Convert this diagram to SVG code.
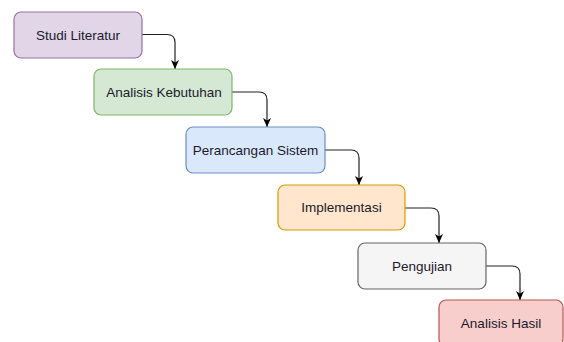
<svg xmlns="http://www.w3.org/2000/svg" width="564" height="342" viewBox="0 0 564 342">
<defs>
<marker id="arr" markerUnits="userSpaceOnUse" markerWidth="10" markerHeight="10" viewBox="0 0 10 10" refX="9" refY="5" orient="auto">
<path d="M0,1 L9,5 L0,9 L2.5,5 z" fill="#000"/>
</marker>
<style>
.box{stroke-width:1.2}
.lbl{font-family:"Liberation Sans",Arial,sans-serif;font-size:13.5px;fill:#1a1a2a;text-anchor:middle;dominant-baseline:central}
.con{fill:none;stroke:#222;stroke-width:1.2;marker-end:url(#arr)}
</style>
</defs>
<rect width="564" height="342" fill="#fff"/>
<g id="connectors">
<path class="con" d="M142,34.5 H167 Q175,34.5 175,42.5 V69"/>
<path class="con" d="M232,92 H259 Q267,92 267,100 V127"/>
<path class="con" d="M325,150 H351 Q359,150 359,158 V185"/>
<path class="con" d="M405,208 H431 Q439,208 439,216 V243"/>
<path class="con" d="M486,266 H512 Q520,266 520,274 V300"/>
</g>
<g id="studi-literatur">
<rect class="box" x="14" y="12" width="128" height="46" rx="7" fill="#e1d5e7" stroke="#9673a6"/>
<text class="lbl" x="78" y="35">Studi Literatur</text>
</g>
<g id="analisis-kebutuhan">
<rect class="box" x="94" y="69" width="138" height="46" rx="7" fill="#d5e8d4" stroke="#82b366"/>
<text class="lbl" x="164" y="92">Analisis Kebutuhan</text>
</g>
<g id="perancangan-sistem">
<rect class="box" x="186" y="127" width="139" height="46" rx="7" fill="#dae8fc" stroke="#6c8ebf"/>
<text class="lbl" x="255.5" y="150">Perancangan Sistem</text>
</g>
<g id="implementasi">
<rect class="box" x="278" y="185" width="127" height="45" rx="7" fill="#ffe6cc" stroke="#d79b00"/>
<text class="lbl" x="341.5" y="207.5">Implementasi</text>
</g>
<g id="pengujian">
<rect class="box" x="358" y="243" width="128" height="46" rx="7" fill="#f5f5f5" stroke="#666666"/>
<text class="lbl" x="422" y="266">Pengujian</text>
</g>
<g id="analisis-hasil">
<rect class="box" x="439" y="300" width="124" height="46" rx="7" fill="#f8cecc" stroke="#b85450"/>
<text class="lbl" x="501" y="323">Analisis Hasil</text>
</g>
</svg>
